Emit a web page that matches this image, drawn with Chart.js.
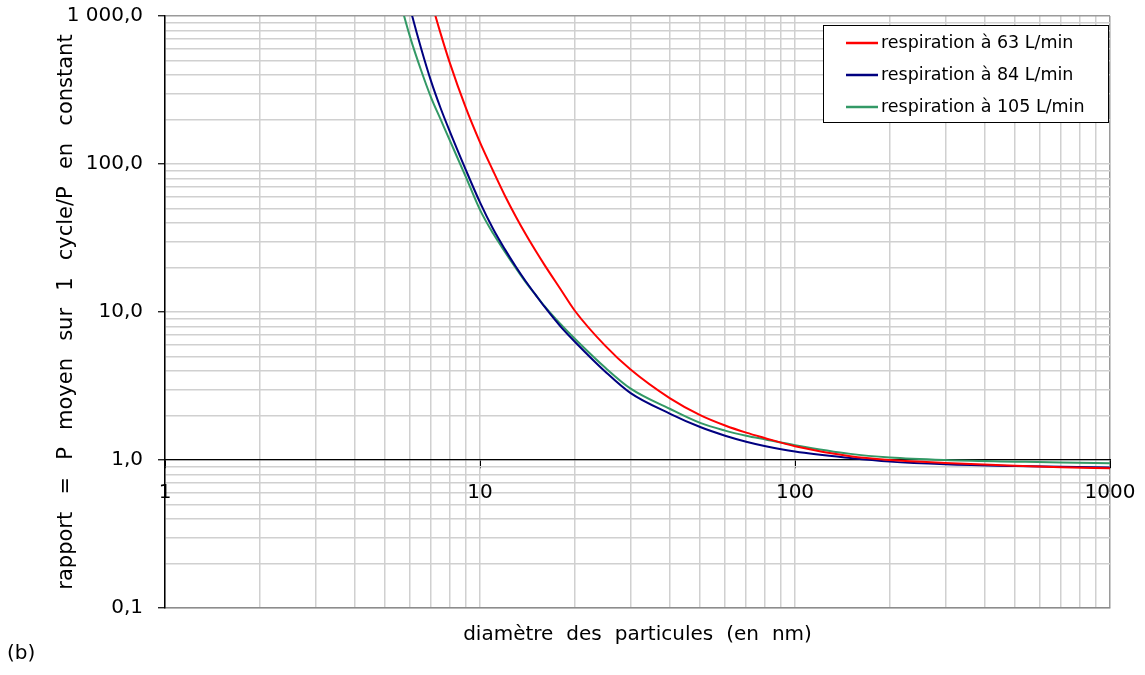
<!DOCTYPE html>
<html>
<head>
<meta charset="utf-8">
<script src="https://cdn.jsdelivr.net/npm/chart.js@4.4.1/dist/chart.umd.min.js"></script>
<style>
  body { margin: 0; background: #fff; }
  #wrap { position: relative; width: 1145px; height: 675px; }
  #c { position: absolute; left: 0; top: 0; }
  #tag { position: absolute; left: 7px; top: 640px; font: 20px "DejaVu Sans"; line-height: 24px; color: #000; }
</style>
</head>
<body>
<div id="wrap">
  <canvas id="c" width="1145" height="675"></canvas>
  <div id="tag">(b)</div>
</div>
<script>
// diamètre des particules (nm)
const diametres = [5, 5.5, 6, 6.5, 7, 7.5, 8, 9, 10, 11, 12, 13, 14, 15, 16, 18, 20, 25, 30, 40, 50, 60, 70, 80, 100, 150, 200, 300, 500, 700, 1000];

// rapport P moyen sur 1 cycle / P en constant
const resp63 = [18000, 8500, 4240, 2230, 1260, 760, 490, 242, 140, 90, 61, 44, 33.2, 26, 20.9, 14.3, 10.2, 5.9, 4.1, 2.62, 2.01, 1.71, 1.53, 1.41, 1.24, 1.06, 1.0, 0.955, 0.915, 0.895, 0.88];
const resp84 = [5600, 2370, 1130, 605, 360, 238, 168, 92, 55, 36.5, 26.5, 20.2, 16.0, 13.1, 10.9, 8.0, 6.3, 3.95, 2.84, 2.06, 1.67, 1.46, 1.33, 1.245, 1.14, 1.03, 0.975, 0.935, 0.91, 0.9, 0.89];
const resp105 = [3000, 1400, 720, 430, 280, 200, 146, 82.5, 49, 34, 25.5, 19.8, 15.8, 13.1, 11.0, 8.3, 6.6, 4.2, 3.05, 2.22, 1.78, 1.58, 1.46, 1.38, 1.26, 1.1, 1.04, 1.0, 0.975, 0.96, 0.95];

const seriesLabels = ['respiration à 63 L/min', 'respiration à 84 L/min', 'respiration à 105 L/min'];

// graduations
const xMajor = [1, 10, 100, 1000];
const xLabels = ['1', '10', '100', '1000'];
const yMajor = [0.1, 1, 10, 100, 1000];
const yLabels = ['0,1', '1,0', '10,0', '100,0', '1 000,0'];

// titres (espaces larges comme sur l'original)
const xTitle = 'diamètre des particules (en nm)'.split(' ').join(' \u2004');
const yTitle = 'rapport = P moyen sur 1 cycle/P en constant'.split(' ').join(' \u2002');

function logTicks(first, last) {
  const out = [];
  for (let e = first; e < last; e++) {
    for (let m = 1; m <= 9; m++) out.push(Number((m * Math.pow(10, e)).toPrecision(2)));
  }
  out.push(Math.pow(10, last));
  return out;
}
const xTicks = logTicks(0, 3);
const yTicks = logTicks(-1, 3);

function pts(ys) {
  return diametres.map((d, i) => ({x: d, y: ys[i]}));
}

Chart.defaults.font.family = '"DejaVu Sans"';
Chart.defaults.color = '#000';

const legendBox = {
  id: 'legendBox',
  afterDraw(chart) {
    const ctx = chart.ctx;
    const area = chart.chartArea;
    const w = 285, h = 97;
    const x = area.right - 287, y = area.top + 9;
    ctx.save();
    ctx.fillStyle = '#fff';
    ctx.fillRect(x, y, w, h);
    ctx.strokeStyle = '#000';
    ctx.lineWidth = 1;
    ctx.strokeRect(x + 0.5, y + 0.5, w, h);
    ctx.font = '17.5px "DejaVu Sans"';
    ctx.textBaseline = 'middle';
    ctx.textAlign = 'left';
    chart.data.datasets.forEach((ds, i) => {
      const cy = y + 18 + i * 32;
      ctx.strokeStyle = ds.borderColor;
      ctx.lineWidth = 2.5;
      ctx.beginPath();
      ctx.moveTo(x + 23, cy);
      ctx.lineTo(x + 55, cy);
      ctx.stroke();
      ctx.fillStyle = '#000';
      ctx.fillText(ds.label, x + 58, cy);
    });
    ctx.restore();
  }
};

const ctx = document.getElementById('c').getContext('2d');
const chart = new Chart(ctx, {
  type: 'line',
  data: {
    datasets: [
      {
        label: seriesLabels[0],
        data: pts(resp63),
        borderColor: '#ff0000',
        borderWidth: 2,
      },
      {
        label: seriesLabels[1],
        data: pts(resp84),
        borderColor: '#000080',
        borderWidth: 2,
      },
      {
        label: seriesLabels[2],
        data: pts(resp105),
        borderColor: '#339966',
        borderWidth: 2,
      },
    ]
  },
  options: {
    responsive: false,
    devicePixelRatio: 1,
    animation: false,
    parsing: false,
    elements: {
      point: {radius: 0},
      line: {cubicInterpolationMode: 'monotone', fill: false}
    },
    layout: {padding: {left: 0, top: 16, right: 35, bottom: 0}},
    plugins: {
      legend: {display: false},
      tooltip: {enabled: false}
    },
    scales: {
      x: {
        type: 'logarithmic',
        position: 'bottom',
        min: 1,
        max: 1000,
        afterBuildTicks: (s) => { s.ticks = xTicks.map(v => ({value: v})); },
        afterFit: (s) => { s.height = 67; s.paddingLeft = 0; s.paddingRight = 0; },
        ticks: {display: false, autoSkip: false},
        grid: {
          drawTicks: false,
          lineWidth: 1.5,
          color: (c) => (c.tick && c.tick.value === 1000) ? '#9a9a9a' : '#d0d0d0'
        },
        border: {display: true, color: '#8c8c8c', width: 1.5},
        title: {
          display: true,
          text: xTitle,
          font: {size: 20},
          padding: {top: 0, bottom: 28}
        }
      },
      x2: {
        type: 'logarithmic',
        position: {y: 1},
        min: 1,
        max: 1000,
        afterBuildTicks: (s) => { s.ticks = xMajor.map(v => ({value: v})); },
        afterFit: (s) => { s.paddingLeft = 0; s.paddingRight = 0; },
        ticks: {
          autoSkip: false,
          maxRotation: 0,
          padding: 13,
          font: {size: 20},
          callback: (v) => {
            const i = xMajor.indexOf(v);
            return i >= 0 ? xLabels[i] : '';
          }
        },
        grid: {
          display: true,
          drawOnChartArea: false,
          drawTicks: true,
          tickLength: 8,
          tickColor: '#000',
          tickWidth: 1
        },
        border: {display: true, color: '#000', width: 1.2}
      },
      y: {
        type: 'logarithmic',
        position: 'left',
        min: 0.1,
        max: 1000,
        afterBuildTicks: (s) => { s.ticks = yTicks.map(v => ({value: v})); },
        afterFit: (s) => { s.width = 165; s.paddingTop = 0; s.paddingBottom = 0; },
        ticks: {
          autoSkip: false,
          padding: 15,
          font: {size: 20},
          callback: (v) => {
            const i = yMajor.indexOf(v);
            return i >= 0 ? yLabels[i] : '';
          }
        },
        grid: {
          lineWidth: 1.5,
          drawTicks: true,
          tickLength: 7,
          tickWidth: 1.2,
          color: (c) => (c.tick && c.tick.value === 1000) ? '#9a9a9a' : '#d0d0d0',
          tickColor: (c) => (c.tick && yMajor.indexOf(c.tick.value) >= 0) ? '#000' : 'rgba(0,0,0,0)'
        },
        border: {display: true, color: '#000', width: 1.5},
        title: {
          display: true,
          text: yTitle,
          font: {size: 21},
          padding: {top: 54, bottom: 0}
        }
      }
    }
  },
  plugins: [legendBox]
});
</script>
</body>
</html>
